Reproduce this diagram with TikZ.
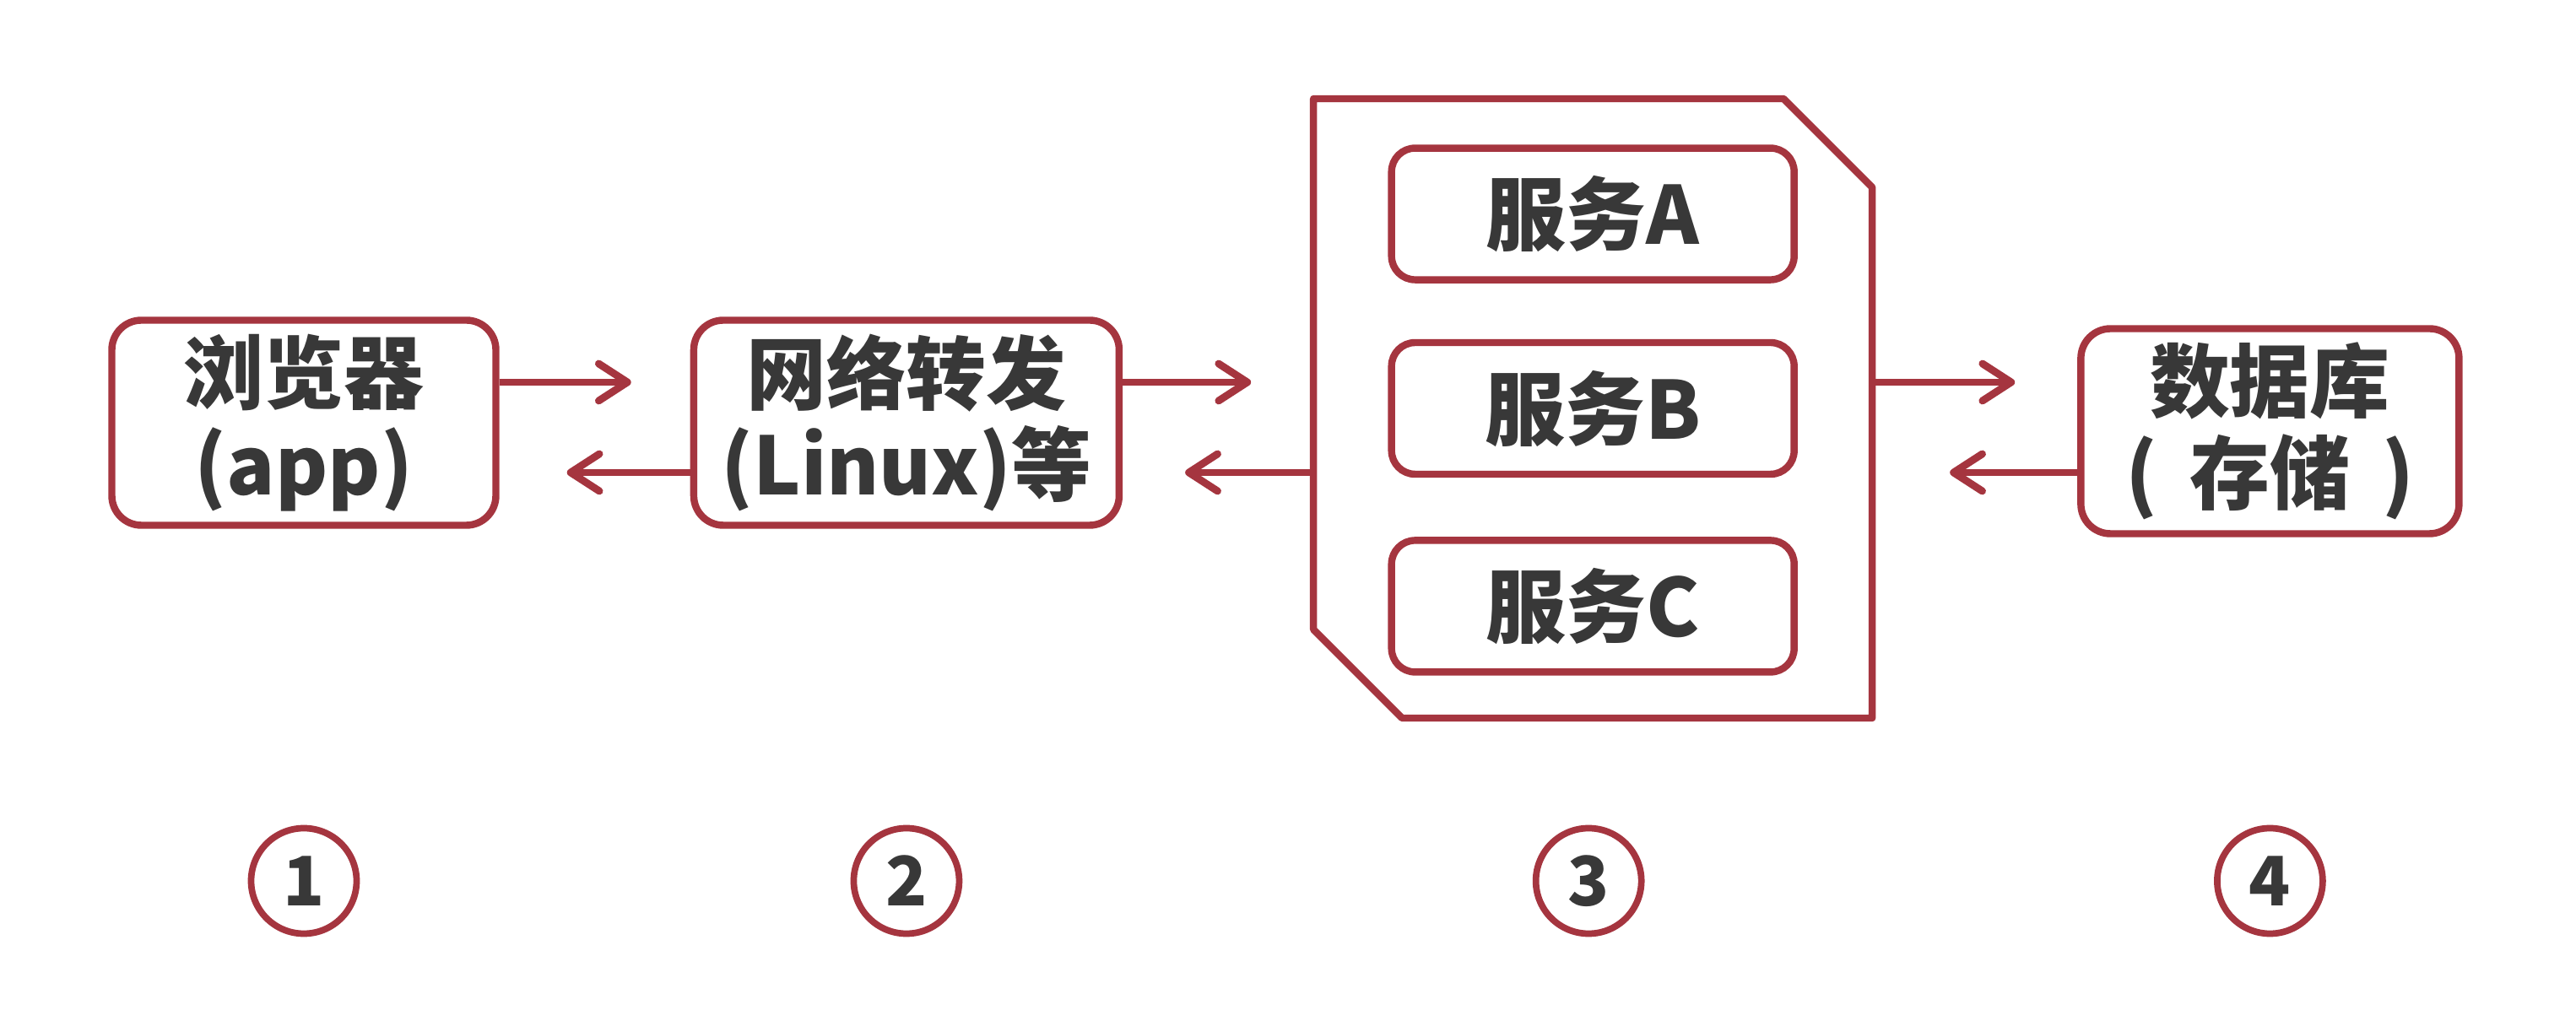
\documentclass[tikz,border=0pt]{standalone}
\usepackage{xcolor}
\usepackage{fontspec}
\setmainfont{Noto Sans CJK SC}
\usepackage{tikz}
\usetikzlibrary{arrows.meta, positioning}

\definecolor{wine}{HTML}{A5353F}
\definecolor{ink}{HTML}{383838}

\begin{document}
\begin{tikzpicture}[
        node distance=2.26cm and 2.26cm,
        font=\fontsize{27}{31}\selectfont\bfseries,
        text=ink,
        block/.style={rectangle, draw=wine, line width=2.4pt, rounded corners=3.5mm, fill=white, align=center, minimum width=4.55cm, minimum height=2.43cm, inner sep=0pt},
        service/.style={rectangle, draw=wine, line width=2.4pt, rounded corners=2.8mm, fill=white, minimum width=4.77cm, minimum height=1.56cm, inner sep=0pt},
        host/.style={rectangle, minimum width=6.62cm, minimum height=7.34cm, inner sep=0pt, outer sep=0pt},
        frame/.style={draw=wine, line width=2.4pt, line join=round},
        badge/.style={circle, draw=wine, line width=2.2pt, minimum size=1.25cm, inner sep=0pt, font=\fontsize{23}{23}\selectfont\bfseries},
        line/.style={draw=wine, line width=2.5pt, -{Straight Barb[length=3.4mm, width=4.4mm, round]}}
        ]
        \useasboundingbox (0,0) rectangle (30.52,12.10);

        % Nodes
        \node [block] (browser) at (3.6,7.09) {浏览器\\(app)};
        \node [block, minimum width=5.04cm, right=of browser] (proxy) {网络转发\\(Linux)等};
        \node [host, right=of proxy, yshift=1.7mm] (host) {};
        \node [block, minimum width=4.48cm, right=2.43cm of host, yshift=-2.7mm] (db) {数据库\\(\hspace{0.4em}存储\hspace{0.4em})};

        \draw [frame] (host.north west) -- ([xshift=-1.05cm]host.north east) -- ([yshift=-1.05cm]host.north east)
            -- (host.south east) -- ([xshift=1.05cm]host.south west) -- ([yshift=1.05cm]host.south west) -- cycle;
        \node [service] (svcB) at (host.center) {服务B};
        \node [service, above=0.66cm of svcB] (svcA) {服务A};
        \node [service, below=0.7cm of svcB] (svcC) {服务C};

        \coordinate (row) at (0,1.66);
        \node [badge] (n1) at (browser |- row) {1};
        \node [badge] (n2) at (proxy |- row) {2};
        \node [badge, xshift=-0.5mm] (n3) at (host |- row) {3};
        \node [badge] (n4) at (db |- row) {4};

        % Edges
        \coordinate (fwd) at (0,7.57);
        \coordinate (back) at (0,6.50);
        \path [line, shorten >=7mm] (browser.east |- fwd) -- (proxy.west |- fwd);
        \path [line, shorten >=8mm] (proxy.west |- back) -- (browser.east |- back);
        \path [line, shorten >=7.4mm] (proxy.east |- fwd) -- (host.west |- fwd);
        \path [line, shorten >=7.4mm] (host.west |- back) -- (proxy.east |- back);
        \path [line, shorten >=7.4mm] (host.east |- fwd) -- (db.west |- fwd);
        \path [line, shorten >=9.2mm] (db.west |- back) -- (host.east |- back);
    \end{tikzpicture}
\end{document}
